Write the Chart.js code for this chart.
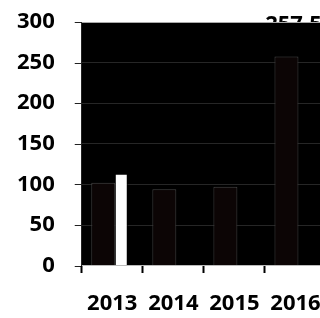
<!DOCTYPE html>
<html>
<head>
<meta charset="utf-8">
<script src="https://cdn.jsdelivr.net/npm/chart.js@4/dist/chart.umd.min.js"></script>
<style>
  html, body { margin: 0; padding: 0; background: #fff; overflow: hidden; }
  #wrap { width: 320px; height: 318px; overflow: hidden; }
</style>
</head>
<body>
<div id="wrap"><canvas id="chart" width="345" height="318"></canvas></div>
<script>
// Chart values
const years = ['2013', '2014', '2015', '2016'];
const darkValues = [102, 94, 97, 257.5];
const whiteValues = [113, null, null, null];
const yTicks = [0, 50, 100, 150, 200, 250, 300];

const FONT = "'Open Sans', sans-serif";

// black plot background, value label underneath it, short y tick marks
const blackArea = {
    id: 'blackArea',
    beforeDraw(chart) {
        const { ctx, chartArea: a, scales } = chart;
        const x = scales.x.getPixelForValue(years.length - 1);
        ctx.save();
        ctx.font = 'bold 22px ' + FONT;
        ctx.fillStyle = '#000';
        ctx.textAlign = 'center';
        ctx.textBaseline = 'top';
        ctx.fillText(String(darkValues[darkValues.length - 1]), x - 2, a.top - 8);
        ctx.fillRect(a.left, a.top, a.right - a.left, a.bottom - a.top);
        ctx.fillStyle = '#222';
        yTicks.forEach(v => {
            const y = Math.round(scales.y.getPixelForValue(v));
            ctx.fillRect(a.left - 7, y, 7, 1);
        });
        ctx.restore();
    }
};

new Chart(document.getElementById('chart').getContext('2d'), {
    type: 'bar',
    data: {
        labels: years,
        datasets: [
            {
                data: darkValues,
                backgroundColor: '#0c0505',
                borderColor: '#454545',
                borderWidth: 1,
                barPercentage: 1.33,
                categoryPercentage: 0.59
            },
            {
                data: whiteValues,
                backgroundColor: '#ffffff',
                borderColor: '#000',
                borderWidth: 1,
                barPercentage: 0.72,
                categoryPercentage: 0.59
            }
        ]
    },
    options: {
        responsive: false,
        animation: false,
        layout: { padding: { top: 22, left: 17, right: 19, bottom: 0 } },
        plugins: { legend: { display: false }, tooltip: { enabled: false } },
        scales: {
            x: {
                grid: {
                    drawOnChartArea: false,
                    tickLength: 24,
                    tickWidth: 2,
                    tickColor: '#000',
                    tickBorderDash: [7, 100]
                },
                border: { color: '#bbb', width: 1 },
                ticks: {
                    color: '#000',
                    padding: 1,
                    maxRotation: 0,
                    autoSkip: false,
                    font: { family: FONT, size: 22, weight: 'bold' }
                }
            },
            y: {
                min: 0,
                max: 300,
                afterBuildTicks(scale) {
                    scale.ticks = yTicks.map(v => ({ value: v }));
                },
                grid: {
                    color: ctx => (ctx.tick && ctx.tick.value === 300 ? '#aaa' : '#262626'),
                    tickLength: 27,
                    tickColor: 'rgba(0,0,0,0)'
                },
                border: { color: '#222' },
                ticks: {
                    color: '#000',
                    padding: 0,
                    font: { family: FONT, size: 22, weight: 'bold' }
                }
            }
        }
    },
    plugins: [blackArea]
});
</script>
</body>
</html>
